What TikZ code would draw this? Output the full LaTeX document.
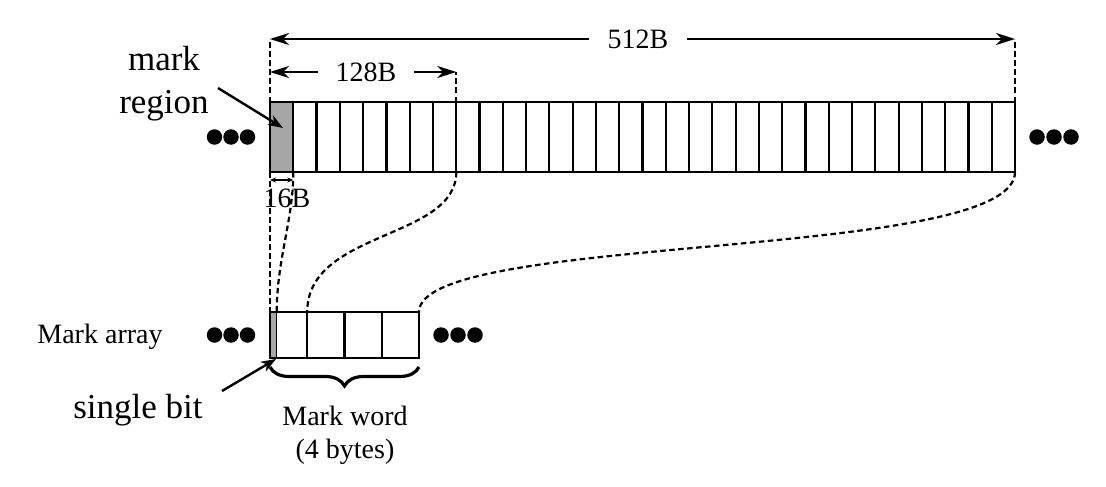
\documentclass[tikz,border=0pt]{standalone}
\usepackage{fontspec}
\setmainfont{Liberation Serif}
\usetikzlibrary{arrows.meta,decorations.pathreplacing}
\definecolor{markgray}{RGB}{166,166,166}
\begin{document}
\begin{tikzpicture}[x=1pt,y=-1pt,
  cellbox/.style={draw,line width=2.2pt,inner sep=0pt,outer sep=0pt,minimum width=23.28125pt,minimum height=70pt},
  wordcell/.style={draw,line width=2.2pt,inner sep=0pt,outer sep=0pt,minimum width=37.25pt,minimum height=46pt},
  dotmark/.style={circle,fill=black,inner sep=0pt,minimum size=15.5pt},
  dashline/.style={line width=2.2pt,dash pattern=on 5.5pt off 3.5pt},
  arr/.style={line width=2.4pt,-{Stealth[length=19pt,width=12pt,inset=6pt]}},
  arrsmall/.style={line width=2.4pt,-{Stealth[length=15pt,width=11pt,inset=4.5pt]}},
  tinyarr/.style={line width=1.2pt,{Stealth[length=6pt,width=5pt]}-{Stealth[length=6pt,width=5pt]}},
  lbl/.style={font=\fontsize{28}{32}\selectfont,inner sep=0pt,outer sep=0pt},
  biglbl/.style={font=\fontsize{35}{43}\selectfont,inner sep=0pt,outer sep=0pt,align=center},
]
\useasboundingbox (0,0) rectangle (1106,487);

% top array
\node[cellbox,fill=markgray] (c0) at ({270+23.28125*0.5},137) {};
\foreach \i in {1,...,31}
  \node[cellbox] (c\i) at ({270+23.28125*(\i+0.5)},137) {};

% bottom array
\foreach \i in {0,...,3}
  \node[wordcell] (b\i) at ({270+37.25*(\i+0.5)},335) {};
\node[draw,fill=markgray,line width=1.4pt,inner sep=0pt,outer sep=0pt,minimum width=6.5pt,minimum height=46pt] (bit) at (273.5,335) {};

% dots
\foreach \n/\x in {1/214.5,2/231,3/247.5}
  \node[dotmark] (tl\n) at (\x,137) {};
\foreach \n/\x in {1/1037,2/1054,3/1071}
  \node[dotmark] (tr\n) at (\x,137) {};
\foreach \n/\x in {1/214.5,2/231,3/247.5}
  \node[dotmark] (bl\n) at (\x,335) {};
\foreach \n/\x in {1/441,2/458,3/475}
  \node[dotmark] (br\n) at (\x,335) {};

% 512B dimension
\node[lbl,inner xsep=19pt] (t512) at (638,39) {512B};
\coordinate (e512l) at (270,39);
\coordinate (e512r) at (1015,39);
\draw[arr] (t512.west) -- (e512l);
\draw[arr] (t512.east) -- (e512r);

% 128B dimension
\node[lbl,inner xsep=18pt] (t128) at (366,72) {128B};
\coordinate (e128l) at (270,72);
\coordinate (e128r) at (456.25,72);
\draw[arr] (t128.west) -- (e128l);
\draw[arr] (t128.east) -- (e128r);

% dashed extension lines
\draw[dashline] (c0.north west) -- (e512l);
\draw[dashline] (c7.north east) -- (e128r);
\draw[dashline] (c31.north east) -- (e512r);

% 16B dimension
\coordinate (s16l) at (270,180);
\coordinate (s16r) at (293.28,180);
\draw[tinyarr] (s16l) -- (s16r);
\node[lbl,anchor=base] (t16) at (287,207) {16B};

% dashed mapping lines
\draw[dashline] (c0.south west) -- (b0.north west);
\draw[dashline] (c0.south east) .. controls +(0,48) and +(0,-52) .. (bit.north east);
\draw[dashline] (c7.south east) .. controls +(0,68) and +(0,-82) .. (b0.north east);
\draw[dashline] (c31.south east) .. controls +(0,90) and +(0,-80) .. (b3.north east);

% labels
\node[biglbl,anchor=north] (mreg) at (164,46) {mark\\region};
\coordinate (mrT) at (218,88);
\coordinate (mrH) at (283,128);
\draw[arrsmall] (mrT) -- (mrH);

\node[lbl,anchor=base] (marr) at (100,343) {Mark array};

\node[biglbl,anchor=base] (sbit) at (138,418) {single bit};
\coordinate (sbT) at (222,391);
\coordinate (sbH) at (276,359);
\draw[arrsmall] (sbT) -- (sbH);

% brace
\draw[line width=3.2pt,decorate,decoration={brace,mirror,amplitude=19pt}]
  ([yshift=-9pt]b0.south west) -- ([yshift=-9pt]b3.south east);
\node[lbl,align=center,anchor=north,font=\fontsize{28}{33}\selectfont] (mword) at (345,406) {Mark word\\(4 bytes)};
\end{tikzpicture}
\end{document}
